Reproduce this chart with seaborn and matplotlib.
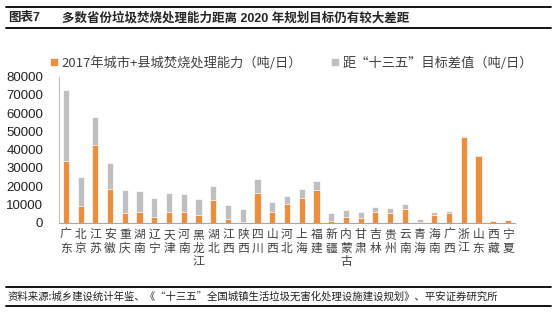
import matplotlib
matplotlib.use("Agg")
import matplotlib.pyplot as plt
import seaborn as sns
import pandas as pd
from matplotlib.lines import Line2D

provinces = ["广东", "北京", "江苏", "安徽", "重庆", "湖南", "辽宁", "天津", "河南", "黑龙江",
             "湖北", "江西", "陕西", "四川", "山西", "河北", "上海", "福建", "新疆", "内蒙古",
             "甘肃", "吉林", "贵州", "云南", "青海", "海南", "广西", "浙江", "山东", "西藏", "宁夏"]
capacity_2017 = [34000, 9300, 42600, 18400, 5300, 6000, 2900, 5800, 6000, 4400,
                 12400, 2200, 200, 16400, 5800, 10000, 13700, 17900, 900, 3300,
                 2700, 5800, 5300, 7500, 200, 4200, 5500, 46900, 36700, 700, 1500]
gap_to_target = [38700, 15700, 15300, 14100, 12400, 11400, 10600, 10500, 9900, 8800,
                 7700, 7700, 7300, 7300, 5500, 4800, 4700, 4700, 4400, 3800,
                 3300, 2800, 2600, 2500, 2000, 1600, 700, 600, 400, 200, 0]
yticks = [0, 10000, 20000, 30000, 40000, 50000, 60000, 70000, 80000]

label_cap = "2017年城市+县城焚烧处理能力（吨/日）"
label_gap = "距“十三五”目标差值（吨/日）"
title_no = "图表7"
title_text = "多数省份垃圾焚烧处理能力距离 2020 年规划目标仍有较大差距"
source_text = "资料来源:城乡建设统计年鉴、《“十三五”全国城镇生活垃圾无害化处理设施建设规划》、平安证券研究所"

df = pd.DataFrame({
    "province": provinces,
    "cap": capacity_2017,
    "total": [a + b for a, b in zip(capacity_2017, gap_to_target)],
})

sns.set_style("white")
plt.rcParams["font.family"] = ["Liberation Sans", "Noto Sans CJK SC", "DejaVu Sans"]

ORANGE = "#EC8E40"
GRAY = "#BFBFBF"
TXT = "#404040"

fig = plt.figure(figsize=(5.59, 3.15), dpi=100)
ax = fig.add_axes([0.1047, 0.293, 0.922 - 0.1047, 0.7565 - 0.293])

sns.barplot(data=df, x="province", y="total", color=GRAY, width=0.42,
            edgecolor="white", linewidth=0.5, saturation=1, ax=ax, label=label_gap)
sns.barplot(data=df, x="province", y="cap", color=ORANGE, width=0.42,
            edgecolor="white", linewidth=0.5, saturation=1, ax=ax, label=label_cap)

ax.set_xlim(-0.5, len(provinces) - 0.5)
ax.set_ylim(0, 80000)
ax.set_yticks(yticks)
ax.set_yticklabels([str(v) for v in yticks], fontsize=9.5, color="#222222")
ax.tick_params(axis="y", length=0, pad=11)
ax.set_xticks(range(len(provinces)))
ax.set_xticklabels(["\n".join(p) for p in provinces], fontsize=8.5, color=TXT,
                   family=["Noto Sans CJK SC"], linespacing=1.05)
ax.tick_params(axis="x", which="major", length=0, pad=4)
ax.set_xticks([i - 0.5 for i in range(len(provinces) + 1)], minor=True)
ax.tick_params(axis="x", which="minor", length=4, color="#A6A6A6", width=0.8)
ax.set_xlabel("")
ax.set_ylabel("")
for s in ["top", "right"]:
    ax.spines[s].set_visible(False)
ax.spines["left"].set_color("#BFBFBF")
ax.spines["bottom"].set_color("#A6A6A6")
ax.grid(False)

handles, labels = ax.get_legend_handles_labels()
order = [labels.index(label_cap), labels.index(label_gap)]
leg = ax.legend([handles[i] for i in order], [labels[i] for i in order],
                loc="center", bbox_to_anchor=(0.51, 1.094),
                ncol=2, frameon=False, handlelength=0.6, handleheight=0.6,
                handletextpad=0.3, columnspacing=2.2, borderaxespad=0,
                prop={"family": ["Noto Sans CJK SC"], "size": 9.5})
for t in leg.get_texts():
    t.set_color(TXT)

# header and footer rules
x0, x1 = 6 / 559, 551 / 559
for yy in [7.3, 28, 287, 306]:
    fig.add_artist(Line2D([x0, x1], [1 - yy / 315, 1 - yy / 315], color="black", lw=1.3,
                          transform=fig.transFigure))

fig.text(8 / 559, 1 - 18 / 315, title_no, fontsize=9, fontweight="bold", va="center",
         ha="left", family=["Liberation Sans", "Noto Sans CJK SC"])
fig.text(62 / 559, 1 - 18 / 315, title_text, fontsize=9, fontweight="bold", va="center",
         ha="left", family=["Liberation Sans", "Noto Sans CJK SC"])
fig.text(8 / 559, 1 - 296.5 / 315, source_text, fontsize=7.5, style="italic", va="center",
         ha="left", family=["Noto Sans CJK SC"], color="#222222")

fig.savefig("out.png", dpi=100)
